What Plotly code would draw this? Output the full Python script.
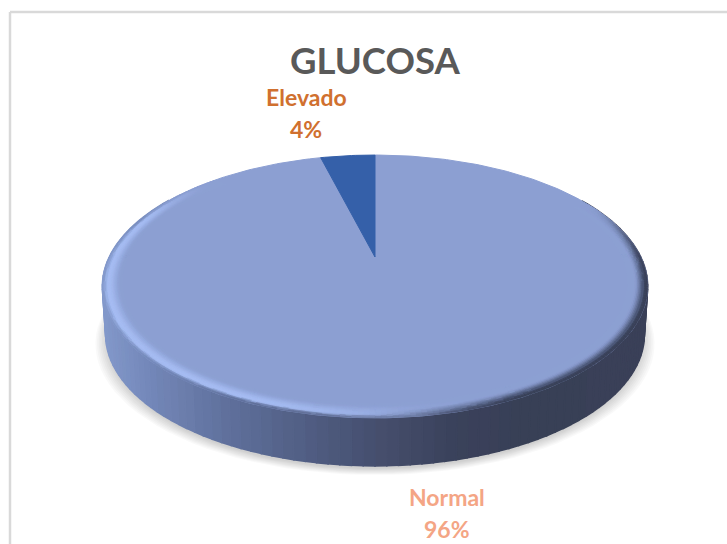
import math
import plotly.graph_objects as go

chart_title = "GLUCOSA"
categories = ["Normal", "Elevado"]
values = [96, 4]
slice_colors = ["#8c9fd2", "#3560a9"]
label_colors = ["#f4a585", "#d0702f"]

W, H = 727, 544
CX, CY = 375, 257
RX, RY, K = 265.7, 124.8, 0.224
DEPTH = 48
BOTTOM_SCALE = 0.988


def proj(deg, r=1.0, dy=0.0, sx=1.0):
    t = math.radians(deg)
    X, Y = r * math.sin(t), r * math.cos(t)
    w = 1 + K * Y
    return CX + RX * sx * X / w, CY - RY * Y / w + dy


def hex2rgb(h):
    return tuple(int(h[i:i + 2], 16) for i in (1, 3, 5))


def lerp(c1, c2, t):
    t = max(0.0, min(1.0, t))
    return tuple(a + (b - a) * t for a, b in zip(c1, c2))


def ramp(stops, v):
    for (a, ca), (b, cb) in zip(stops, stops[1:]):
        if v <= b:
            return lerp(hex2rgb(ca), hex2rgb(cb), (v - a) / (b - a))
    return hex2rgb(stops[-1][1])


def css(c):
    return "rgb(%d,%d,%d)" % tuple(round(x / 2) * 2 for x in c)


def smooth(t):
    t = max(0.0, min(1.0, t))
    return t * t * (3 - 2 * t)


SIDE_STOPS = [(100, "#8399cb"), (150, "#7387b8"), (220, "#61729e"), (300, "#525f85"),
              (375, "#464f6e"), (450, "#3b425c"), (520, "#383f56"), (650, "#3a4058")]
HILITE, TOP = "#a6bdf3", slice_colors[0]
DARK = "#3b4560"

fig = go.Figure()


def poly(pts, color, line=True):
    xs = [p[0] for p in pts] + [pts[0][0]]
    ys = [p[1] for p in pts] + [pts[0][1]]
    fig.add_trace(go.Scatter(
        x=xs, y=ys, mode="lines", fill="toself", fillcolor=color,
        line=dict(color=color if line else "rgba(0,0,0,0)", width=1 if line else 0),
        hoverinfo="skip", showlegend=False))


def add_groups(groups, width=0.7):
    for color, quads in groups.items():
        xs, ys = [], []
        for q in quads:
            xs += [p[0] for p in q] + [q[0][0], None]
            ys += [p[1] for p in q] + [q[0][1], None]
        fig.add_trace(go.Scatter(x=xs, y=ys, mode="lines", fill="toself", fillcolor=color,
                                 line=dict(color=color, width=width), hoverinfo="skip", showlegend=False))


# soft shadow under the disc
for i in range(8):
    grow = 1.038 - i * 0.006
    pts = [proj(a, 1.0, DEPTH + 3 + (7 - i) * 0.9, BOTTOM_SCALE * grow) for a in range(0, 360, 3)]
    poly(pts, "rgba(0,0,0,0.022)", line=False)

# side wall, shaded across its width
groups = {}
for a in range(60, 300, 2):
    q = [proj(a), proj(a + 2), proj(a + 2, 1.0, DEPTH, BOTTOM_SCALE), proj(a, 1.0, DEPTH, BOTTOM_SCALE)]
    mx = (q[0][0] + q[1][0]) / 2
    groups.setdefault(css(ramp(SIDE_STOPS, mx)), []).append(q)
add_groups(groups, width=1.6)

# pie slices on the top face, drawn from the values
total = sum(values)
start = 0.0
for val, col in zip(values, slice_colors):
    sweep = 360.0 * val / total
    n = max(2, int(sweep))
    arc = [proj(start + sweep * i / n) for i in range(n + 1)]
    poly([(CX, CY)] + arc, col)
    start += sweep


# bevel around the rim: how far it is lit or shaded at each angle
def edge_mix(a):
    """Returns (highlight amount, dark amount)."""
    a %= 360
    dark = smooth((a - 62) / 40) * (1 - smooth((a - 150) / 35))
    lit = smooth((a - 155) / 50) * (1 - smooth((a - 285) / 30))
    return lit, dark


radii = [0.93 + 0.005 * i for i in range(15)]
groups = {}
for a in range(62, 316):
    lit, dark = edge_mix(a + 0.5)
    side = ramp(SIDE_STOPS, proj(a + 0.5)[0])
    for j in range(len(radii) - 1):
        t = (radii[j] + radii[j + 1]) / 2
        c = hex2rgb(TOP)
        c = lerp(c, hex2rgb(HILITE), lit * smooth((t - 0.935) / 0.045))
        c = lerp(c, hex2rgb(DARK), dark * smooth((t - 0.955) / 0.04))
        outer = smooth((t - 0.98) / 0.02)
        c = lerp(c, side, outer * max(lit, dark))
        q = [proj(a, radii[j]), proj(a + 1, radii[j]), proj(a + 1, radii[j + 1]), proj(a, radii[j + 1])]
        groups.setdefault(css(c), []).append(q)
add_groups(groups)

FONT = "Lato"
TITLE_SIZE, LABEL_SIZE = 36.5, 23
notes = [
    dict(x=375, y=60, text=chart_title, font=dict(size=TITLE_SIZE, color="#595959", family=FONT)),
    dict(x=447, y=497, text=categories[0], font=dict(size=LABEL_SIZE, color=label_colors[0], family=FONT)),
    dict(x=447, y=529, text=f"{values[0]}%", font=dict(size=LABEL_SIZE, color=label_colors[0], family=FONT)),
    dict(x=306, y=97, text=categories[1], font=dict(size=LABEL_SIZE, color=label_colors[1], family=FONT)),
    dict(x=306, y=129, text=f"{values[1]}%", font=dict(size=LABEL_SIZE, color=label_colors[1], family=FONT)),
]
annotations = []
for n in notes:
    n["text"] = "<b>%s</b>" % n["text"]
    annotations.append(dict(xref="x", yref="y", showarrow=False, xanchor="center", yanchor="middle", **n))

fig.update_layout(
    width=W, height=H, margin=dict(l=0, r=0, t=0, b=0, autoexpand=False),
    paper_bgcolor="white", plot_bgcolor="white", showlegend=False,
    xaxis=dict(range=[0, W], visible=False, fixedrange=True),
    yaxis=dict(range=[H, 0], visible=False, fixedrange=True),
    annotations=annotations,
    shapes=[
        dict(type="line", xref="x", yref="y", x0=10, y0=12, x1=10, y1=H, line=dict(color="#d9d9d9", width=2.5)),
        dict(type="line", xref="x", yref="y", x0=10, y0=12, x1=W, y1=12, line=dict(color="#d9d9d9", width=2.5)),
    ],
)
fig.write_html("out.html", config={"displayModeBar": False},
               post_script="document.body.style.margin='0';document.documentElement.style.overflow='hidden';")
